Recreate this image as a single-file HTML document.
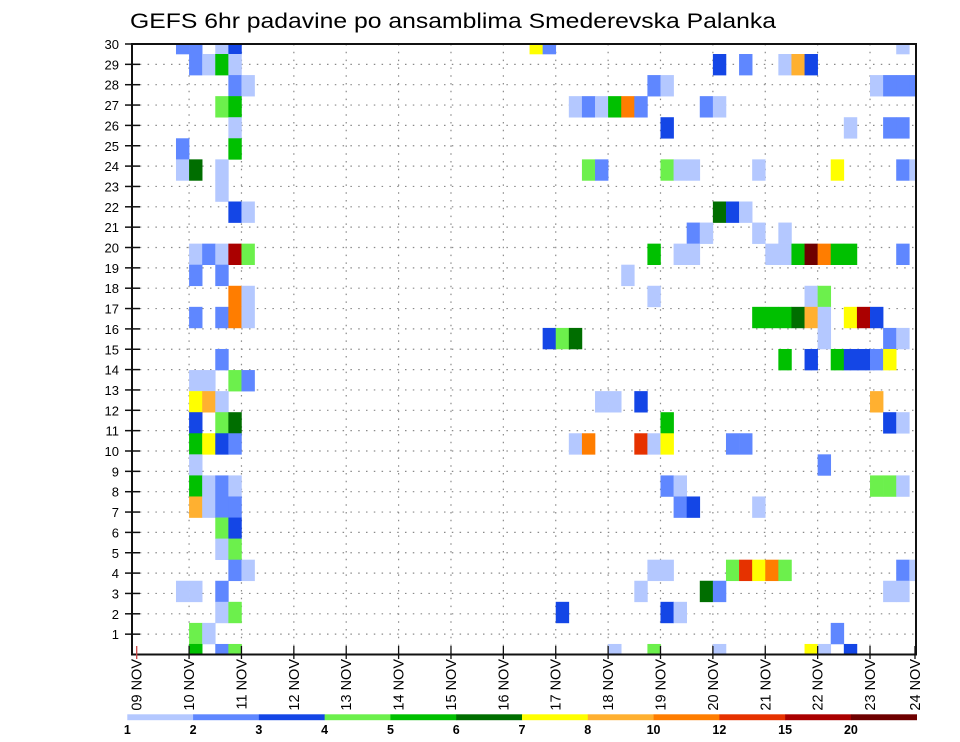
<!DOCTYPE html>
<html><head><meta charset="utf-8">
<style>
html,body{margin:0;padding:0;background:#fff;}
svg{display:block;font-family:"Liberation Sans",sans-serif;}
</style></head>
<body>
<svg id="chart" width="960" height="742" viewBox="0 0 960 742">
  <text x="130" y="28" font-size="21" textLength="646" lengthAdjust="spacingAndGlyphs" fill="#000">GEFS 6hr padavine po ansamblima Smederevska Palanka</text>
  <defs><clipPath id="plotclip"><rect x="132" y="44" width="784" height="610.5"/></clipPath></defs>
  <g id="grid"></g>
  <g id="cells" clip-path="url(#plotclip)"></g>
  <g id="axes"></g>
  <g id="legend"></g>
</svg>
<script>
const dayLabels = ["09 NOV","10 NOV","11 NOV","12 NOV","13 NOV","14 NOV","15 NOV","16 NOV","17 NOV","18 NOV","19 NOV","20 NOV","21 NOV","22 NOV","23 NOV","24 NOV"];
const memberLabels = [1,2,3,4,5,6,7,8,9,10,11,12,13,14,15,16,17,18,19,20,21,22,23,24,25,26,27,28,29,30];
const levelBounds = [1,2,3,4,5,6,7,8,10,12,15,20];
const levelColors = ["#b4c8ff","#5f87ff","#1446e6","#6cf04c","#00c000","#006e00","#ffff00","#ffb030","#ff7d00","#e63200","#aa0000","#6e0000"];
const memberRows = [29,28,27,26,25,24,23,22,21,20,19,18,17,16,15,14,13,12,11,10,9,8,7,6,5,4,3,2,1,0];
const stepsByRow = [
 [3,4,6,7,30,31,58],
 [4,5,6,7,44,46,49,50,51],
 [7,8,39,40,56,57,58,59],
 [6,7,33,34,35,36,37,38,43,44],
 [7,40,54,57,58],
 [3,7],
 [3,4,6,34,35,40,41,42,47,53,58,59],
 [6],
 [7,8,44,45,46],
 [42,43,47,49],
 [4,5,6,7,8,39,41,42,48,49,50,51,52,53,54,58],
 [4,6,37],
 [7,8,39,51,52],
 [4,6,7,8,47,48,49,50,51,52,54,55,56],
 [31,32,33,52,57,58],
 [6,49,51,53,54,55,56,57],
 [4,5,7,8],
 [4,5,6,35,36,38,56],
 [4,6,7,40,57,58],
 [4,5,6,7,33,34,38,39,40,45,46],
 [4,52],
 [4,5,6,7,40,41,56,57,58],
 [4,5,6,7,41,42,47],
 [6,7],
 [6,7],
 [7,8,39,40,45,46,47,48,49,58,59],
 [3,4,6,38,43,44,57,58],
 [6,7,32,40,41],
 [4,5,53],
 [4,6,7,36,39,44,51,52,54]
];
const precipByRow = [
 [2.5,2.5,1.5,3.5,7.5,2.5,1.5],
 [2.5,1.5,5.5,1.5,3.5,2.5,1.5,9,3.5],
 [2.5,1.5,2.5,1.5,1.5,2.5,2.5,2.5],
 [4.5,5.5,1.5,2.5,1.5,5.5,11,2.5,2.5,1.5],
 [1.5,3.5,1.5,2.5,2.5],
 [2.5,5.5],
 [1.5,6.5,1.5,4.5,2.5,4.5,1.5,1.5,1.5,7.5,2.5,1.5],
 [1.5],
 [3.5,1.5,6.5,3.5,1.5],
 [2.5,1.5,1.5,1.5],
 [1.5,2.5,1.5,17,4.5,5.5,1.5,1.5,1.5,1.5,5.5,22,11,5.5,5.5,2.5],
 [2.5,2.5,1.5],
 [11,1.5,1.5,1.5,4.5],
 [2.5,2.5,11,1.5,5.5,5.5,5.5,6.5,9,1.5,7.5,17,3.5],
 [3.5,4.5,6.5,1.5,2.5,1.5],
 [2.5,5.5,3.5,5.5,3.5,3.5,2.5,7.5],
 [1.5,1.5,4.5,2.5],
 [7.5,9,1.5,1.5,1.5,3.5,9],
 [3.5,4.5,6.5,5.5,3.5,1.5],
 [5.5,7.5,3.5,2.5,1.5,11,13.5,1.5,7.5,2.5,2.5],
 [1.5,2.5],
 [5.5,1.5,2.5,1.5,2.5,1.5,4.5,4.5,1.5],
 [9,1.5,2.5,2.5,2.5,3.5,1.5],
 [4.5,3.5],
 [1.5,4.5],
 [2.5,1.5,1.5,1.5,4.5,13.5,7.5,11,4.5,2.5,1.5],
 [1.5,1.5,2.5,1.5,6.5,2.5,1.5,1.5],
 [1.5,4.5,3.5,3.5,1.5],
 [4.5,1.5,2.5],
 [5.5,2.5,4.5,1.5,4.5,1.5,7.5,1.5,3.5]
];

const NS = "http://www.w3.org/2000/svg";
const X0 = 136.7, DX = 13.095;
const PL = 132, PR = 916, PT = 44, PB = 654.5;
function xStep(k){ return X0 + DX * k; }
function xDay(d){ return d === 15 ? 915 : X0 + 4 * DX * d; }
function yCellCenter(j){ return PB - 21.07 * j; }
function yLabel(r){ return PB - 20.35 * r; }
function colorFor(v){
  let idx = 0;
  for (let i = 0; i < levelBounds.length; i++) if (v >= levelBounds[i]) idx = i;
  return levelColors[idx];
}
function mk(tag, attrs, parent){
  const e = document.createElementNS(NS, tag);
  for (const a in attrs) e.setAttribute(a, attrs[a]);
  parent.appendChild(e);
  return e;
}
const grid = document.getElementById("grid");
const cells = document.getElementById("cells");
const axes = document.getElementById("axes");
const legend = document.getElementById("legend");

// grid
for (let r = 1; r < memberLabels.length; r++) {
  const l = mk("line", {x1:PL, x2:PR, y1:yLabel(r), y2:yLabel(r), stroke:"#8a8a8a", "stroke-width":1.2, "stroke-dasharray":"1.5 6.3"}, grid);
  
  
}
for (let d = 1; d < dayLabels.length - 1; d++) {
  const l = mk("line", {x1:xDay(d), x2:xDay(d), y1:PT, y2:PB, stroke:"#8a8a8a", "stroke-width":1.2, "stroke-dasharray":"1.5 6.3"}, grid);
  
  
}

// cells
for (let i = 0; i < memberRows.length; i++) {
  const j = memberRows[i];
  const steps = stepsByRow[i], vals = precipByRow[i];
  for (let n = 0; n < steps.length; n++) {
    const k = steps[n];
    const c = mk("rect", {x:xStep(k), y:yCellCenter(j) - 10.535, width:DX + 0.3, height:21.37, fill:colorFor(vals[n])}, cells);
    
    
  }
}

// frame
const frame = mk("rect", {x:PL, y:PT, width:PR - PL, height:PB - PT, fill:"none", stroke:"#111", "stroke-width":2}, axes);



// y ticks & labels
for (let r = 1; r <= memberLabels.length; r++) {
  const y = yLabel(r);
  const t = mk("line", {x1:125, x2:140, y1:y, y2:y, stroke:"#111", "stroke-width":1.5}, axes);
  
  
  const tx = mk("text", {x:119, y:y + 5, "font-size":13, "text-anchor":"end", fill:"#000"}, axes);
  tx.textContent = memberLabels[r - 1];
  
  
}

// x ticks & labels
for (let d = 0; d < dayLabels.length; d++) {
  const x = xDay(d);
  const t = mk("line", {x1:x, x2:x, y1:646, y2:659, stroke:d === 0 ? "#c44" : "#111", "stroke-width":1.3}, axes);
  
  
  const tx = mk("text", {x:0, y:0, "font-size":14.5, "text-anchor":"end", fill:"#000", transform:"translate(" + (x + 5) + ",659) rotate(-90)"}, axes);
  tx.textContent = dayLabels[d];
  
  
}

// colorbar
const CB0 = 127.3, CBW = (916.7 - 127.3) / levelColors.length;
for (let i = 0; i < levelColors.length; i++) {
  const r = mk("rect", {x:CB0 + CBW * i, y:714.3, width:CBW + 0.3, height:5.9, fill:levelColors[i]}, legend);
  
  
  const tx = mk("text", {x:CB0 + CBW * i, y:734, "font-size":12.5, "font-weight":"bold", "text-anchor":"middle", fill:"#000"}, legend);
  tx.textContent = levelBounds[i];
  
  
}
</script>
</body></html>
